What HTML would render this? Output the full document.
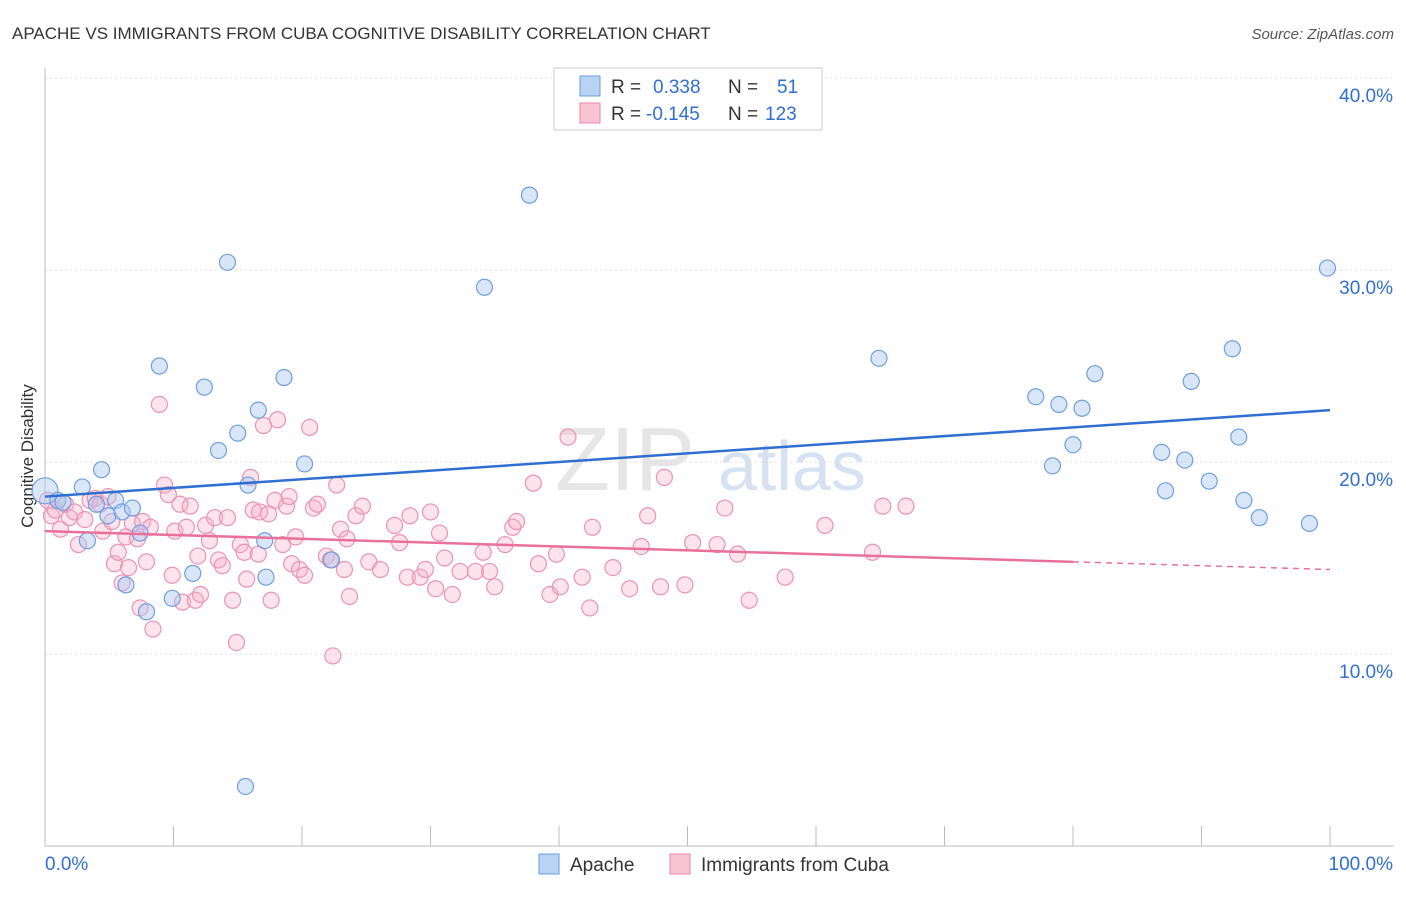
<!DOCTYPE html>
<html><head><meta charset="utf-8"><style>
body{margin:0;background:#fff;font-family:"Liberation Sans",sans-serif;}
svg text{font-family:"Liberation Sans",sans-serif;}
</style></head><body>
<svg id="chart" width="1406" height="892">
<text x="12" y="39" font-size="17" fill="#333">APACHE VS IMMIGRANTS FROM CUBA COGNITIVE DISABILITY CORRELATION CHART</text>
<text x="1394" y="39" font-size="15" fill="#555" font-style="italic" text-anchor="end">Source: ZipAtlas.com</text>
<text x="33" y="456" font-size="17" fill="#333" transform="rotate(-90 33 456)" text-anchor="middle">Cognitive Disability</text>
<text x="555" y="490" font-size="90" fill="#e6e6e6" font-family="Liberation Serif">ZIP</text>
<text x="718" y="490" font-size="70" fill="#d6e2f2">atlas</text>
<g id="grid"></g><g id="axes"></g><g id="marks"></g>
<g>
<rect x="554" y="68" width="268" height="62" fill="#fff" stroke="#ccc"/>
<rect x="580" y="76" width="20" height="20" fill="#b9d3f5" stroke="#6b9ee0"/>
<rect x="580" y="103" width="20" height="20" fill="#f8c3d3" stroke="#e88aa8"/>
<text y="93" font-size="19" fill="#333"><tspan x="611">R =</tspan><tspan x="653" fill="#2f6fd1">0.338</tspan><tspan x="728">N =</tspan><tspan x="777" fill="#2f6fd1">51</tspan></text>
<text y="120" font-size="19" fill="#333"><tspan x="611">R =</tspan><tspan x="646" fill="#2f6fd1">-0.145</tspan><tspan x="728">N =</tspan><tspan x="765" fill="#2f6fd1">123</tspan></text>
</g>
<g>
<rect x="539" y="854" width="20" height="20" fill="#b9d3f5" stroke="#6b9ee0"/>
<text x="570" y="871" font-size="19" fill="#333">Apache</text>
<rect x="670" y="854" width="20" height="20" fill="#f8c3d3" stroke="#e88aa8"/>
<text x="701" y="871" font-size="19" fill="#333">Immigrants from Cuba</text>
</g>
</svg>
<script>
const yTicks=[10,20,30,40];
const xTickLabels=["0.0%","100.0%"];
const apacheX=[0,1,1.4,2.9,3.3,4,4.4,4.9,5.5,6,6.3,6.8,7.4,7.9,8.9,9.9,11.5,12.4,13.5,14.2,15,15.6,15.8,16.6,17.1,17.2,18.6,20.2,22.3,34.2,37.7,64.9,77.1,78.4,78.9,80,80.7,81.7,86.9,87.2,88.7,89.2,90.6,92.4,92.9,93.3,94.5,98.4,99.8];
const apacheY=[18.5,18,17.9,18.7,15.9,17.8,19.6,17.2,18,17.4,13.6,17.6,16.3,12.2,25,12.9,14.2,23.9,20.6,30.4,21.5,3.1,18.8,22.7,15.9,14,24.4,19.9,14.9,29.1,33.9,25.4,23.4,19.8,23,20.9,22.8,24.6,20.5,18.5,20.1,24.2,19,25.9,21.3,18,17.1,16.8,30.1];
const cubaX=[0.2,0.5,0.8,1.2,1.6,1.9,2.3,2.6,3.1,3.5,3.9,4.3,4.5,4.9,5.2,5.4,5.7,6.0,6.3,6.5,6.8,7.2,7.4,7.6,7.9,8.2,8.4,8.9,9.3,9.6,9.9,10.1,10.5,10.7,11.0,11.3,11.7,11.9,12.1,12.5,12.8,13.2,13.5,13.8,14.2,14.6,14.9,15.2,15.5,15.7,16.0,16.2,16.6,16.7,17.0,17.4,17.6,17.9,18.1,18.5,18.8,19.0,19.2,19.5,19.8,20.2,20.6,20.9,21.2,21.9,22.2,22.4,22.7,23.0,23.3,23.5,23.7,24.2,24.7,25.2,26.1,27.2,27.6,28.2,28.4,29.2,29.6,30.0,30.4,30.7,31.1,31.7,32.3,33.5,34.1,34.6,35.0,35.8,36.4,36.7,38.0,38.4,39.3,39.8,40.1,40.7,41.8,42.4,42.6,44.2,45.5,46.4,46.9,47.9,48.2,49.8,50.4,52.3,52.9,53.9,54.8,57.6,60.7,64.4,65.2,67.0];
const cubaY=[18.0,17.2,17.5,16.5,17.8,17.1,17.4,15.7,17.0,18.0,18.1,17.8,16.4,18.2,16.9,14.7,15.3,13.7,16.1,14.5,16.8,16.0,12.4,16.9,14.8,16.6,11.3,23.0,18.8,18.3,14.1,16.4,17.8,12.7,16.6,17.7,12.8,15.1,13.1,16.7,15.9,17.1,14.9,14.6,17.1,12.8,10.6,15.7,15.3,13.9,19.2,17.5,15.2,17.4,21.9,17.3,12.8,18.0,22.2,15.7,17.7,18.2,14.7,16.1,14.4,14.1,21.8,17.6,17.8,15.1,14.9,9.9,18.8,16.5,14.4,16.0,13.0,17.2,17.7,14.8,14.4,16.7,15.8,14.0,17.2,14.0,14.4,17.4,13.4,16.3,15.0,13.1,14.3,14.3,15.3,14.3,13.5,15.7,16.6,16.9,18.9,14.7,13.1,15.2,13.5,21.3,14.0,12.4,16.6,14.5,13.4,15.6,17.2,13.5,19.2,13.6,15.8,15.7,17.6,15.2,12.8,14.0,16.7,15.3,17.7,17.7];
const apacheTrend=[18.2,22.7];
const cubaTrend=[16.4,14.4];
const X0=45,X1=1330,Y0=846,PY=19.2;
const xs=v=>X0+(X1-X0)*v/100, ys=v=>Y0-PY*v;
const NS="http://www.w3.org/2000/svg";
function mk(tag,attrs,parent){const e=document.createElementNS(NS,tag);for(const k in attrs)e.setAttribute(k,attrs[k]);parent.appendChild(e);return e;}
const grid=document.getElementById('grid'),axes=document.getElementById('axes'),marks=document.getElementById('marks');
yTicks.forEach(t=>{
 const l=mk('line',{x1:45,x2:1394,y1:ys(t),y2:ys(t),stroke:'#ddd','stroke-dasharray':'2,3'},grid);
 
 
 const tx=mk('text',{x:1393,y:ys(t)+24,'font-size':19,fill:'#2f6fd1','text-anchor':'end'},axes);tx.textContent=t.toFixed(1)+'%';
 
 
});
mk('line',{x1:45,x2:45,y1:68,y2:846,stroke:'#bbb'},axes);
mk('line',{x1:45,x2:1394,y1:846,y2:846,stroke:'#bbb'},axes);
for(let i=0;i<=10;i++){mk('line',{x1:xs(i*10),x2:xs(i*10),y1:826,y2:846,stroke:'#bbb'},axes);}
const xl0=mk('text',{x:45,y:870,'font-size':19,fill:'#2f6fd1'},axes);xl0.textContent=xTickLabels[0];


const xl1=mk('text',{x:1393,y:870,'font-size':19,fill:'#2f6fd1','text-anchor':'end'},axes);xl1.textContent=xTickLabels[1];


cubaX.forEach((v,i)=>{if(cubaY[i]===undefined)return;const c=mk('circle',{cx:xs(v),cy:ys(cubaY[i]),r:8,fill:'rgba(246,176,200,0.35)',stroke:'#eb93b2','stroke-width':1.2},marks);
 
 });
apacheX.forEach((v,i)=>{if(apacheY[i]===undefined)return;const c=mk('circle',{cx:xs(v),cy:ys(apacheY[i]),r:i==0?13:8,fill:'rgba(170,200,240,0.45)',stroke:'#6f9fe0','stroke-width':1.2},marks);
 
 });
const cAt=x=>cubaTrend[0]+(cubaTrend[1]-cubaTrend[0])*x/100;
const tl=mk('line',{x1:xs(0),y1:ys(apacheTrend[0]),x2:xs(100),y2:ys(apacheTrend[1]),stroke:'#2f6fd1','stroke-width':2.5},marks);


const t2=mk('line',{x1:xs(0),y1:ys(cAt(0)),x2:xs(80),y2:ys(cAt(80)),stroke:'#e8709a','stroke-width':2.5},marks);


const t3=mk('line',{x1:xs(80),y1:ys(cAt(80)),x2:xs(100),y2:ys(cAt(100)),stroke:'#e8709a','stroke-width':1.5,'stroke-dasharray':'6,5'},marks);


</script>
</body></html>
